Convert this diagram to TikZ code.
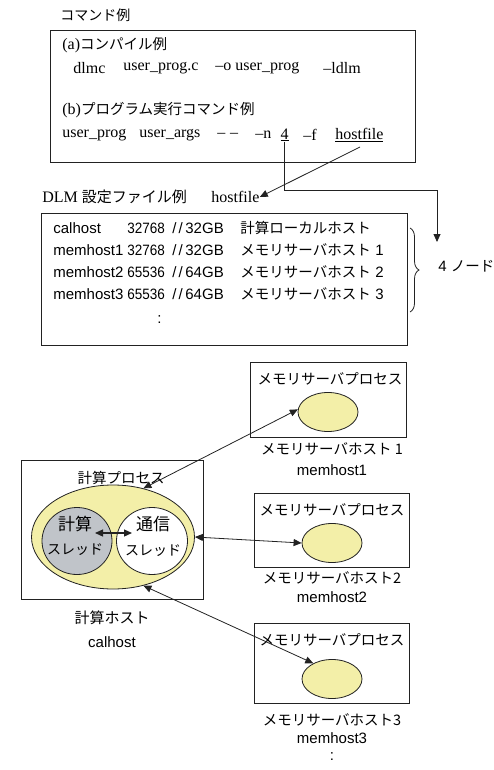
\documentclass[tikz,border=0pt]{standalone}
\usepackage{fontspec}
\setmainfont{Liberation Serif}
\newfontfamily\jp{Noto Sans CJK JP}
\newfontfamily\arial{Liberation Sans}
\usetikzlibrary{arrows.meta,decorations.pathreplacing,shapes.geometric}
\definecolor{pyellow}{HTML}{F3EFA8}
\definecolor{pgray}{HTML}{C0C4C9}
\definecolor{lcol}{HTML}{222222}
\newcommand{\jpa}{\jp\fontsize{14.5}{16}\selectfont}
\newcommand{\narrow}[1]{\scalebox{0.9}[1]{#1}}
\tikzset{
  txt/.style={inner sep=0pt,anchor=west,font=\fontsize{16}{18}\selectfont},
  jtxt/.style={inner sep=0pt,font=\jp\fontsize{14.5}{16}\selectfont},
  htxt/.style={inner sep=0pt,anchor=west,font=\arial\fontsize{15}{17}\selectfont},
  box/.style={draw=lcol,line width=0.9pt},
  tip/.style={-{Triangle[length=8pt,width=7pt]}},
  dtip/.style={{Triangle[length=8pt,width=7pt]}-{Triangle[length=8pt,width=7pt]}},
}
\begin{document}
\begin{tikzpicture}[x=1pt,y=-1pt,line width=0.8pt]
\useasboundingbox (0,0) rectangle (493,770);
% top section
\node[jtxt,anchor=west,font=\jp\fontsize{14}{16}\selectfont] (cmdtitle) at (60,15) {コマンド例};
\draw[box] (50,30) rectangle (415,162);
\node[txt] (a) at (62,45) {(a){\jpa コンパイル例}};
\node[txt] (a1) at (73,68) {dlmc};
\node[txt] (a2) at (123,68) {user\_prog.c};
\node[txt] (a3) at (215,68) {--o user\_prog};
\node[txt] (a4) at (323,68) {--ldlm};
\node[txt] (b) at (62,110) {(b){\jpa プログラム実行コマンド例}};
\node[txt] (b1) at (62,135) {user\_prog};
\node[txt] (b2) at (139,135) {user\_args};
\node[txt] (b3) at (217,135) {--\hspace{0.3em}--};
\node[txt] (b4) at (255,135) {--n};
\node[txt,anchor=center] (four) at (284.5,135) {\underline{4}};
\node[txt] (fopt) at (303,135) {--f};
\node[txt] (hf) at (335,135) {\underline{hostfile}};
% DLM config
\node[txt] (dlm) at (42,197) {DLM {\jp\fontsize{15}{17}\selectfont 設定ファイル例}};
\node[txt] (hf2) at (211,197) {hostfile};
\coordinate (hfs) at (360,147);
\draw[lcol,tip] (hfs) -- (hf2.east);
\coordinate (bend1) at (284.5,190);
\coordinate (bend2) at (437,190);
\coordinate (nodes) at (437,242);
\draw[lcol,tip] (four.south) -- (bend1) -- (bend2) -- (nodes);
\draw[box] (41,213) rectangle (407,345);
\node[htxt] (n1) at (53,228) {calhost};
\node[jtxt,anchor=west] (j1) at (240,228) {計算ローカルホスト};
\foreach \i/\y in {1/250,2/272,3/294}{
  \node[htxt] (n\y) at (53,\y) {memhost\i};
  \node[jtxt,anchor=west] (j\y) at (240,\y) {メモリサーバホスト};
  \node[htxt] (k\y) at (375,\y) {\i};
}
\foreach \v/\g/\y in {32768/32/228,32768/32/250,65536/64/272,65536/64/294}{
  \node[htxt] (v\y) at (127,\y) {\narrow{\v}};
  \node[htxt] (s\y) at (172,\y) {/\hspace{2pt}/};
  \node[htxt] (g\y) at (185,\y) {\g GB};
}
\node[htxt] (dots1) at (157,320) {:};
\draw[lcol,line width=0.8pt,decorate,decoration={brace,amplitude=9pt}] (410,228) -- (410,312);
\node[htxt] (four2) at (438,266) {4 {\jp\fontsize{14.5}{16}\selectfont ノード}};
% compute host
\draw[box] (21,460) rectangle (203,599);
\node[jtxt] (cproc) at (121,478) {計算プロセス};
\node[draw=lcol,fill=pyellow,ellipse,minimum width=163pt,minimum height=104pt,inner sep=0pt,line width=0.8pt] (cell) at (113,537) {};
\node[draw=lcol,fill=pgray,ellipse,minimum width=70pt,minimum height=67pt,inner sep=0pt,line width=0.8pt] (calc) at (77,541) {};
\node[draw=lcol,fill=white,ellipse,minimum width=71pt,minimum height=67pt,inner sep=0pt,line width=0.8pt] (comm) at (152,541) {};
\node[jtxt,font=\jp\fontsize{17}{19}\selectfont] at (75,524) {計算};
\node[jtxt,font=\jp\fontsize{14}{16}\selectfont] at (75,550) {スレッド};
\node[jtxt,font=\jp\fontsize{17}{19}\selectfont] at (153,524) {通信};
\node[jtxt,font=\jp\fontsize{14}{16}\selectfont] at (153,551) {スレッド};
\coordinate (dl) at (95,533);
\coordinate (dr) at (132,533);
\draw[lcol,line width=1.2pt,dtip] (dl) -- (dr);
\node[jtxt,font=\jp\fontsize{15}{17}\selectfont] (chost) at (112,618) {計算ホスト};
\node[htxt,anchor=center] (calhost) at (112,642) {calhost};
% memory servers
\foreach \i/\top/\bot/\ey/\ly/\my in {1/362/437/412/449/470, 2/493/567/543/578/597, 3/623/703/679/720/738}{
  \draw[box] (\ifnum\i=1 250\else 254\fi,\top) rectangle (\ifnum\i=1 406\else 409\fi,\bot);
  \node[jtxt] (mp\i) at (\ifnum\i=1 330\else 332\fi,\top+17) {メモリサーバプロセス};
  \node[draw=lcol,fill=pyellow,ellipse,minimum width=60pt,minimum height=39pt,inner sep=0pt,line width=0.8pt] (me\i) at (\ifnum\i=1 328\else 332\fi,\ey) {};
  \node[jtxt] (mh\i) at (332,\ly) {メモリサーバホスト\ifnum\i=1{ }\fi\i};
  \node[htxt,anchor=center] (mn\i) at (332,\my) {memhost\i};
}
\node[htxt,anchor=center] (dots2) at (332,757) {:};
\draw[lcol,dtip] (cell.58) -- (me1.175);
\draw[lcol,dtip] (cell.east) -- (me2.west);
\draw[lcol,dtip] (cell.-58) -- (me3.140);
\end{tikzpicture}
\end{document}
